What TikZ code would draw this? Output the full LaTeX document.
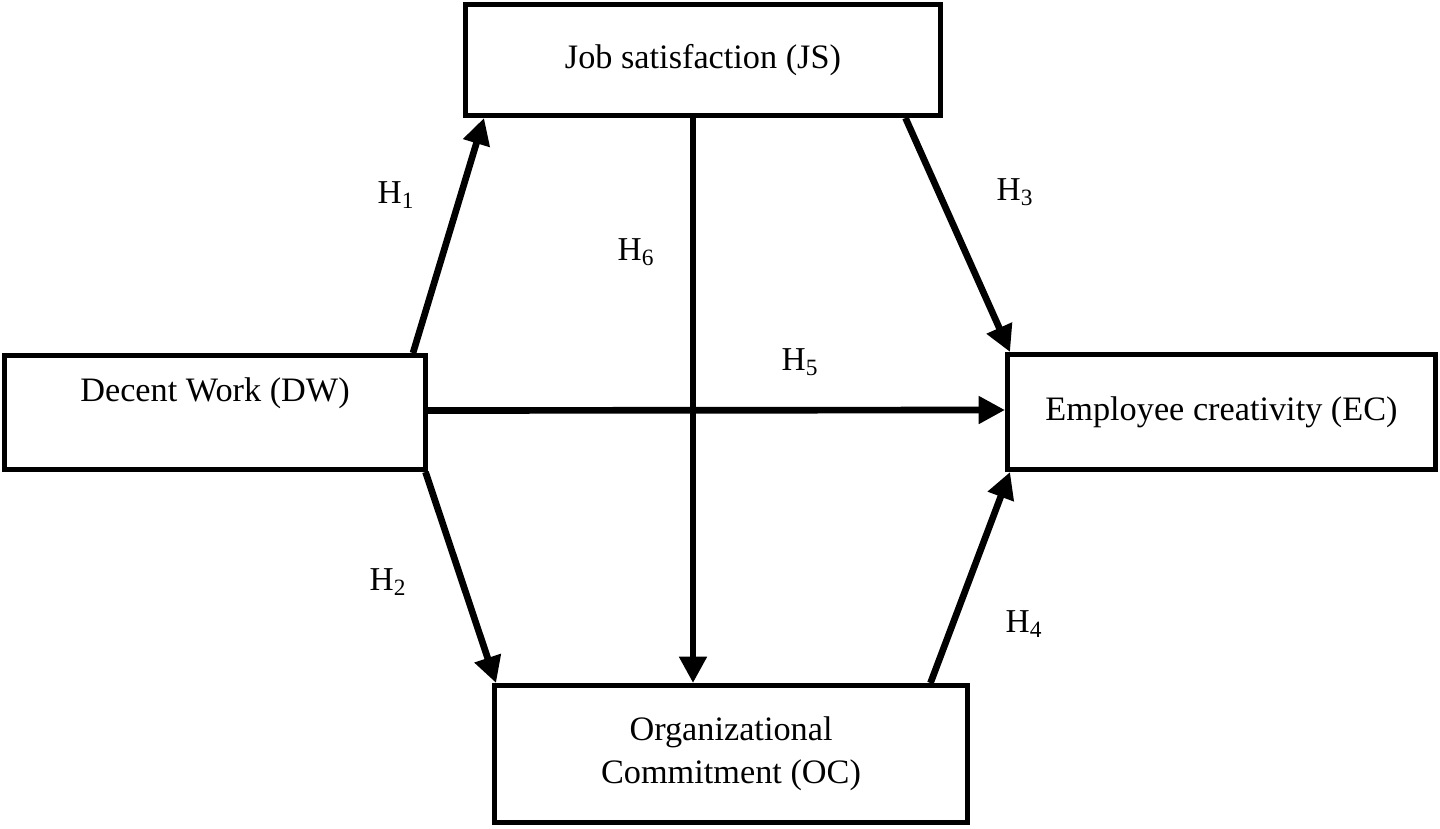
\documentclass[tikz,border=0pt]{standalone}
\usepackage{fontspec}
\setmainfont{Liberation Serif}
\usetikzlibrary{arrows.meta}

\begin{document}
\begin{tikzpicture}[box/.style={rectangle, draw, line width=2.8pt, align=center, font=\fontsize{19.5}{24.4}\selectfont},
                    arr/.style={line width=3.8pt, -{Triangle[length=15pt, width=15pt]}},
                    hyp/.style={font=\fontsize{19}{22}\selectfont}]
				      \useasboundingbox (0,0) rectangle (28.8,16.56);

				      \node[box, minimum width=9.5cm, minimum height=2.22cm] (js) at (14.06,15.36) {Job satisfaction (JS)};
				      \node[box, minimum width=8.42cm, minimum height=2.28cm,
				            label={[font=\fontsize{19.5}{24.4}\selectfont, yshift=0.38cm]center:Decent Work (DW)}] (dw) at (4.30,8.31) {};
				      \node[box, minimum width=8.56cm, minimum height=2.3cm] (ec) at (24.43,8.32) {Employee creativity (EC)};
				      \node[box, minimum width=9.46cm, minimum height=2.74cm] (oc) at (14.62,1.48) {Organizational\\Commitment (OC)};

				      \node[hyp] (h1) at (7.92,12.66) {H\textsubscript{1}};
				      \node[hyp] (h2) at (7.76,4.92) {H\textsubscript{2}};
				      \node[hyp] (h3) at (20.30,12.72) {H\textsubscript{3}};
				      \node[hyp] (h4) at (20.48,4.08) {H\textsubscript{4}};
				      \node[hyp] (h5) at (16.00,9.32) {H\textsubscript{5}};
				      \node[hyp] (h6) at (12.72,11.52) {H\textsubscript{6}};

				      \draw[arr] ([xshift=-0.3cm]dw.north east) -- ([xshift=0.42cm]js.south west);
				      \draw[arr] ([xshift=-0.05cm]dw.south east) -- ([xshift=0.08cm]oc.north west);
				      \draw[arr] ([xshift=-0.75cm]js.south east) -- ([xshift=0.1cm]ec.north west);
				      \draw[arr] ([xshift=-0.79cm]oc.north east) -- ([xshift=0.1cm]ec.south west);
				      \draw[arr] ([yshift=0.04cm]dw.east) -- ([yshift=0.04cm]ec.west);
				      \draw[arr] ([xshift=-0.2cm]js.south) -- ([xshift=-0.2cm]js.south |- oc.north);
			      \end{tikzpicture}
\end{document}
